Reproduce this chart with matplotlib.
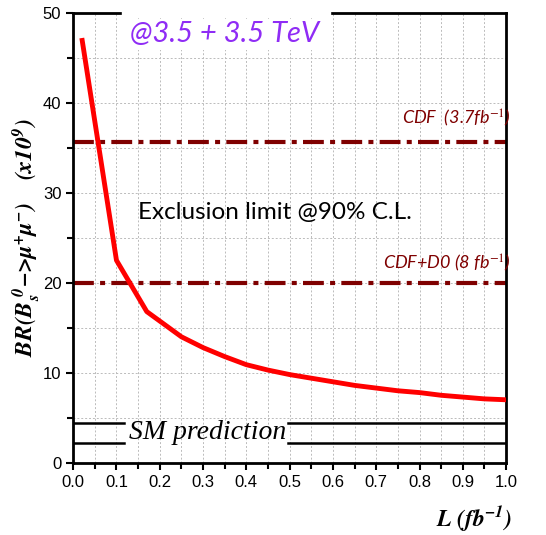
import matplotlib
matplotlib.use("Agg")
import matplotlib.pyplot as plt
from matplotlib.ticker import MultipleLocator

plt.rcParams["mathtext.fontset"] = "stix"

# luminosity (fb^-1) and 90% CL exclusion limit (x10^-9)
lumi = [0.02, 0.10, 0.17, 0.25, 0.30, 0.35, 0.40, 0.45, 0.50, 0.55, 0.60,
        0.65, 0.70, 0.75, 0.80, 0.85, 0.90, 0.95, 1.00]
limit = [47.2, 22.5, 16.8, 14.0, 12.8, 11.8, 10.9, 10.3, 9.8, 9.4, 9.0,
         8.6, 8.3, 8.0, 7.8, 7.5, 7.3, 7.1, 7.0]

cdf_limit = 35.7
cdf_d0_limit = 20.0
sm_band = [2.2, 4.4]

fig = plt.figure(figsize=(5.46, 5.35), dpi=100)
ax = fig.add_axes([0.134, 0.135, 0.793, 0.841])

ax.set_xlim(0, 1.0)
ax.set_ylim(0, 50)
ax.xaxis.set_major_locator(MultipleLocator(0.1))
ax.xaxis.set_minor_locator(MultipleLocator(0.05))
ax.yaxis.set_major_locator(MultipleLocator(10))
ax.yaxis.set_minor_locator(MultipleLocator(5))
ax.grid(which="both", color="#bbbbbb", linestyle=(0, (2, 2)), linewidth=0.7)
ax.set_axisbelow(True)

for sp in ax.spines.values():
    sp.set_linewidth(2)
ax.tick_params(which="both", direction="out", width=1.5, labelsize=12)
ax.tick_params(which="major", length=5)
ax.tick_params(which="minor", length=4)
ax.set_xticks([i / 10 for i in range(11)])
ax.set_xticklabels([f"{i / 10:.1f}" for i in range(11)], fontfamily="Liberation Sans")
ax.set_yticks([0, 10, 20, 30, 40, 50])
ax.set_yticklabels(["0", "10", "20", "30", "40", "50"], fontfamily="Liberation Sans")

# limits
ax.axhline(cdf_limit, color="#7f0000", lw=3, linestyle=(0, (5, 1.5, 1.2, 1.5)))
ax.axhline(cdf_d0_limit, color="#7f0000", lw=3, linestyle=(0, (5, 1.5, 1.2, 1.5)))
ax.plot(lumi, limit, color="#ff0000", lw=3.5, solid_capstyle="butt", zorder=5)

# SM prediction band
for yv in sm_band:
    ax.plot([0, 0.118], [yv, yv], color="black", lw=1.8)
    ax.plot([0.497, 1.0], [yv, yv], color="black", lw=1.8)
ax.text(0.31, 3.4, "SM prediction", fontsize=20, style="italic", family="Liberation Serif",
        ha="center", va="center")

ax.text(0.465, 27.8, "Exclusion limit @90% C.L.", fontsize=17.5, family="Lato",
        ha="center", va="center")
ax.text(1.01, 38.3, "CDF  (3.7fb$^{-1}$)", fontsize=13, color="#7f0000", style="italic",
        family="Lato", ha="right", va="center", clip_on=False)
ax.text(1.01, 22.2, "CDF+D0 (8 fb$^{-1}$)", fontsize=13, color="#7f0000", style="italic",
        family="Lato", ha="right", va="center", clip_on=False)

ax.text(0.35, 47.6, "@3.5 + 3.5 TeV", fontsize=21, color="#8f2cf5", style="italic",
        family="Lato", ha="center", va="center", zorder=10,
        bbox=dict(facecolor="white", edgecolor="none", pad=2), clip_on=False)
# white patch breaking the top frame, as in the original
ax.fill_between([0.113, 0.593], 49.6, 50.5, color="white", zorder=9, clip_on=False)

fig.text(0.05, 0.555, r"$\mathbfit{BR(B_s^{\ 0}\!-\!\!>\!\mu^{+}\mu^{-})}$   $\mathbfit{(x10^{9})}$",
         rotation=90, fontsize=17, ha="center", va="center")
fig.text(0.868, 0.03, r"$\mathbfit{L\ (fb^{-1})}$", fontsize=17, ha="center", va="center")

fig.savefig("out.png", dpi=100)
